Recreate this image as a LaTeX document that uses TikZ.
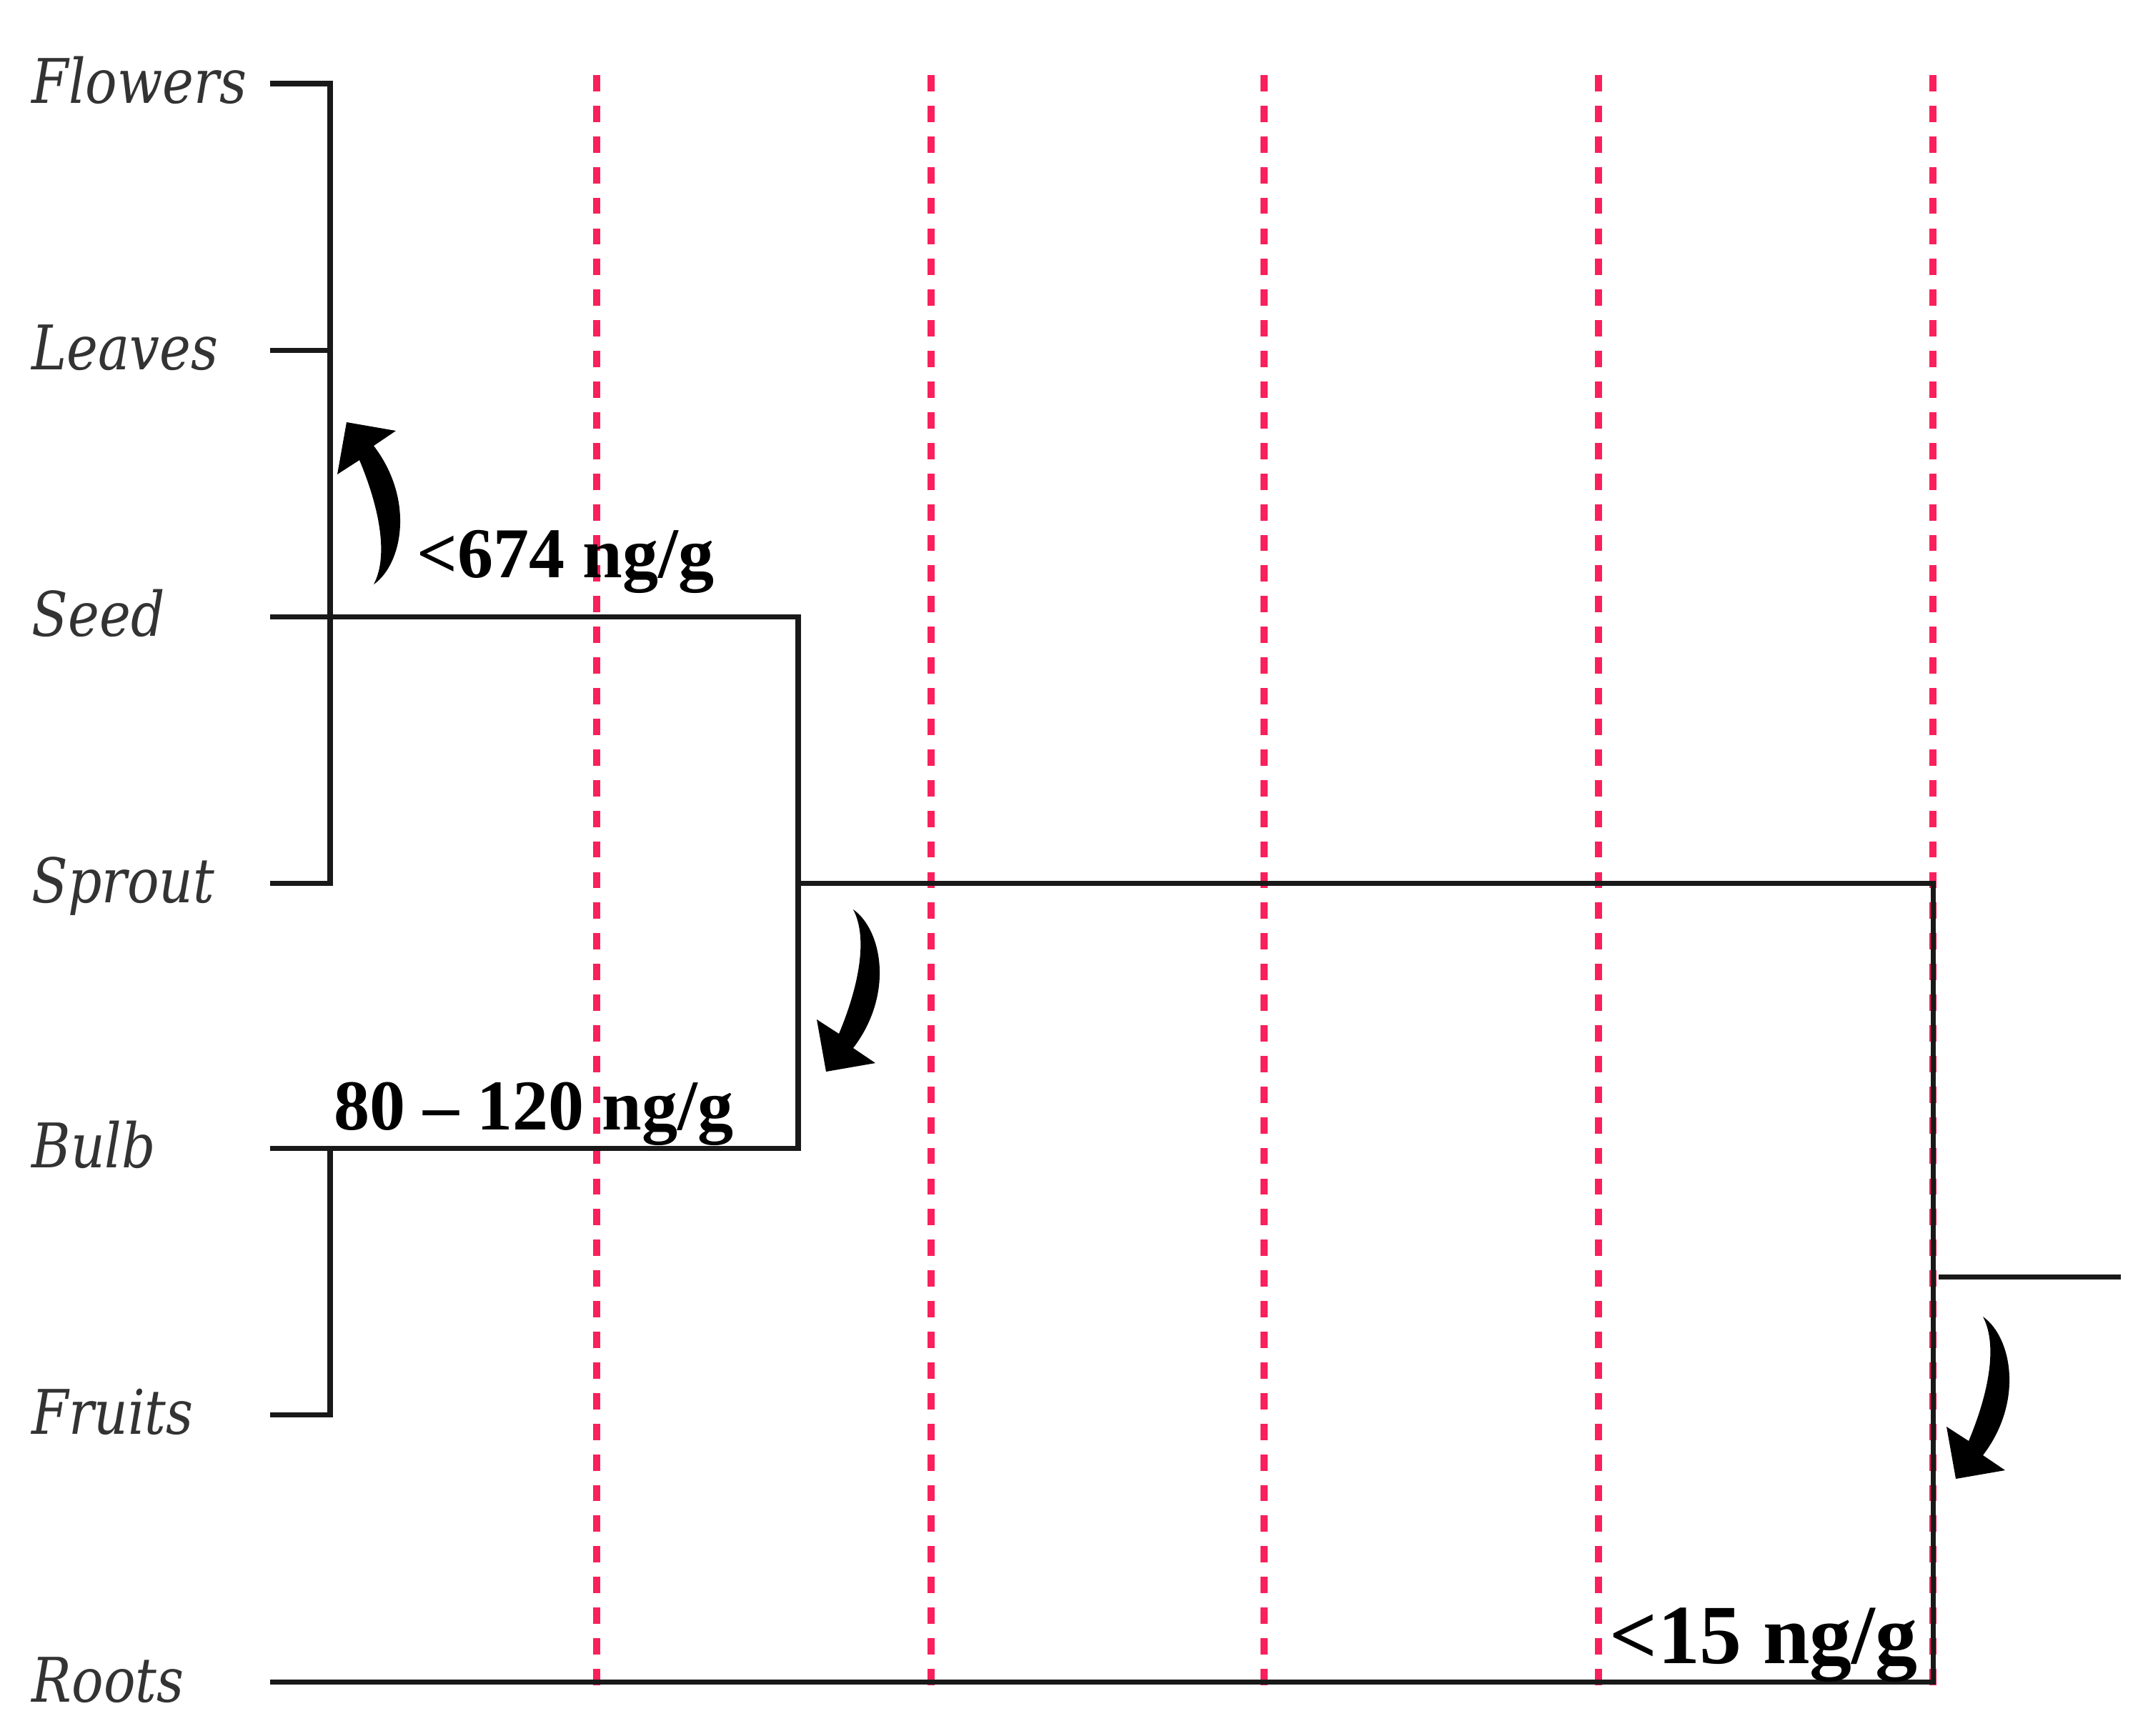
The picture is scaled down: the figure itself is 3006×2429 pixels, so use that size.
\documentclass[tikz,border=0pt]{standalone}
\usepackage{fontspec}
\setmainfont{Liberation Serif}
\newfontfamily\labfont[FakeStretch=0.86]{DejaVu Serif}
\definecolor{dashred}{RGB}{250,32,92}
\tikzset{
  tree/.style={line width=2pt, line join=miter, line cap=butt, black!90},
  guide/.style={line width=2.8pt, dashred, dash pattern=on 6.5pt off 5.7pt},
  leaflab/.style={anchor=base west, inner sep=0pt, text=black!80, font=\labfont\itshape\fontsize{24.5}{28}\selectfont},
  conc/.style={anchor=base west, inner sep=0pt, font=\bfseries\fontsize{28.45}{34}\selectfont},
  curvearrow/.pic={
    \fill[black] (0,0) .. controls (40,28) and (58,118) .. (0,194)
      -- (31,215) -- (-38,227) -- (-51,154) -- (-20,174)
      .. controls (6,112) and (22,42) .. (0,0) -- cycle;
  }
}
\begin{document}
\begin{tikzpicture}[x=0.01cm, y=-0.01cm]
\useasboundingbox (0,0) rectangle (3006,2429);
\fill[white] (0,0) rectangle (3006,2429);

% guide lines
\foreach \gx in {835,1303,1769,2237,2705}{
  \draw[guide] (\gx,105) -- (\gx,2365);
}

% labels
\node[leaflab] (flowers) at (44,144) {Flowers};
\node[leaflab] (leaves)  at (44,517) {Leaves};
\node[leaflab] (seed)    at (44,890) {Seed};
\node[leaflab] (sprout)  at (44,1263) {Sprout};
\node[leaflab] (bulb)    at (44,1634) {Bulb};
\node[leaflab] (fruits)  at (44,2007) {Fruits};
\node[leaflab] (roots)   at (44,2382) {Roots};

% leaf ends
\coordinate (fl) at (378,117);
\coordinate (lv) at (378,490);
\coordinate (sd) at (378,863);
\coordinate (sp) at (378,1236);
\coordinate (bb) at (378,1607);
\coordinate (fr) at (378,1980);
\coordinate (rt) at (378,2354);

% junctions
\coordinate (ja1) at (462,117);
\coordinate (ja2) at (462,490);
\coordinate (ja3) at (462,1236);
\coordinate (jb1) at (1117,863);
\coordinate (jb2) at (1117,1236);
\coordinate (jb3) at (1117,1607);
\coordinate (jc1) at (462,1607);
\coordinate (jc2) at (462,1980);
\coordinate (jd1) at (2705,1236);
\coordinate (jd2) at (2705,2354);
\coordinate (st1) at (2713,1787);
\coordinate (st2) at (2968,1787);

\draw[tree] (fl) -- (ja1) -- (ja3) -- (sp);
\draw[tree] (lv) -- (ja2);
\draw[tree] (sd) -- (jb1) -- (jb3) -- (bb);
\draw[tree] (jc1) -- (jc2) -- (fr);
\draw[tree] (jb2) -- (jd1) -- (jd2) -- (rt);
\draw[tree] (st1) -- (st2);

% concentration texts
\node[conc] (c1) at (583,808) {<674 ng/g};
\node[conc] (c2) at (467,1581) {80 – 120 ng/g};
\node[conc, anchor=base east, font=\bfseries\fontsize{33.5}{40}\selectfont] (c3) at (2684,2328) {<15 ng/g};

% curved arrows
\pic[yscale=-1] at (523,818) {curvearrow};
\pic at (1194,1273) {curvearrow};
\pic at (2775,1843) {curvearrow};
\end{tikzpicture}
\end{document}
